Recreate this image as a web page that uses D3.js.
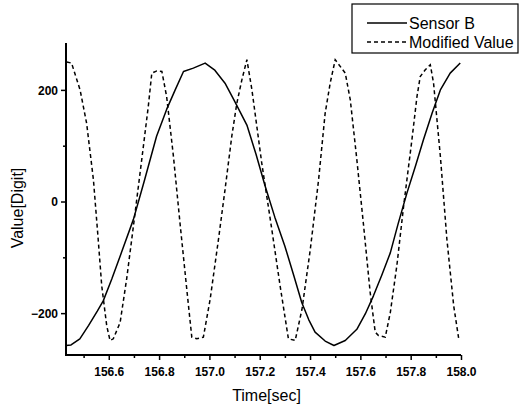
<!DOCTYPE html>
<html>
<head>
<meta charset="utf-8">
<script src="https://cdn.jsdelivr.net/npm/d3@7"></script>
<style>
  html, body { margin: 0; padding: 0; background: #fff; }
  svg { display: block; }
  text { font-family: "Liberation Sans", Arial, sans-serif; fill: #000; }
</style>
</head>
<body>
<svg id="chart" width="520" height="407"></svg>
<script>
// ---- data ----
const sensorTime = [156.430,156.450,156.485,156.520,156.555,156.578,156.612,156.650,156.698,156.740,
  156.790,156.830,156.864,156.897,156.936,156.983,157.020,157.062,157.100,157.149,157.185,157.222,
  157.260,157.300,157.335,157.367,157.395,157.420,157.460,157.495,157.540,157.586,157.620,157.652,
  157.685,157.719,157.750,157.785,157.820,157.851,157.885,157.918,157.957,157.997];
const sensorB = [-258,-257,-246,-222,-196,-178,-139,-92,-32,35,
  117,165,200,233,239,248,236,212,180,137,85,27,
  -28,-80,-132,-181,-212,-234,-250,-258,-249,-229,-201,-169,
  -132,-92,-40,15,65,111,158,200,230,248];

const modTime = [156.433,156.452,156.486,156.512,156.539,156.558,156.572,156.592,156.605,156.618,
  156.645,156.671,156.698,156.731,156.757,156.771,156.791,156.811,156.830,156.857,156.883,156.910,
  156.930,156.950,156.976,157.003,157.036,157.062,157.089,157.109,157.129,157.149,157.169,157.208,
  157.248,157.281,157.314,157.341,157.368,157.401,157.434,157.460,157.480,157.500,157.540,157.560,
  157.586,157.613,157.639,157.659,157.672,157.699,157.719,157.745,157.772,157.805,157.825,157.838,
  157.858,157.878,157.891,157.918,157.944,157.971,157.991];
const modifiedValue = [250,248,200,140,39,-68,-151,-223,-249,-246,
  -217,-139,-44,75,170,230,234,233,188,81,-38,-157,
  -243,-246,-243,-175,-68,21,117,176,218,254,200,69,
  -50,-151,-246,-249,-193,-86,39,158,212,254,230,182,
  75,-44,-163,-234,-240,-243,-199,-115,-8,111,188,224,
  236,245,212,81,-68,-187,-246];

const xMajorTicks = [156.6,156.8,157.0,157.2,157.4,157.6,157.8,158.0];
const xMinorTicks = [156.5,156.7,156.9,157.1,157.3,157.5,157.7,157.9];
const yMajorTicks = [-200,0,200];
const yMinorTicks = [-100,100];
const seriesNames = ["Sensor B","Modified Value"];
const xTitle = "Time[sec]";
const yTitle = "Value[Digit]";

// ---- layout ----
const L = 66, R = 461, T = 43, B = 355;
const svg = d3.select("#chart");
svg.append("rect").attr("width",520).attr("height",407).attr("fill","#fff");

const x = d3.scaleLinear().domain([156.43,158.0]).range([L,R]);
const y = d3.scaleLinear().domain([-275,284]).range([B,T]);

// lines
const lineS = d3.line().x((d,i)=>x(sensorTime[i])).y(d=>y(d));
svg.append("path").datum(sensorB).attr("d",lineS)
  .attr("fill","none").attr("stroke","#000").attr("stroke-width",1.5).attr("stroke-linejoin","round");
const lineM = d3.line().x((d,i)=>x(modTime[i])).y(d=>y(d));
svg.append("path").datum(modifiedValue).attr("d",lineM)
  .attr("fill","none").attr("stroke","#000").attr("stroke-width",1.5)
  .attr("stroke-dasharray","4,3");

// axes
const gx = svg.append("g").attr("transform",`translate(0,${B})`)
  .call(d3.axisBottom(x).tickValues(xMajorTicks).tickSize(5).tickSizeOuter(0).tickFormat(d3.format(".1f")));
const gxm = svg.append("g").attr("transform",`translate(0,${B})`)
  .call(d3.axisBottom(x).tickValues(xMinorTicks).tickSize(3).tickSizeOuter(0).tickFormat(""));
const gy = svg.append("g").attr("transform",`translate(${L},0)`)
  .call(d3.axisLeft(y).tickValues(yMajorTicks).tickSize(5).tickSizeOuter(0).tickFormat(d3.format("d")));
const gym = svg.append("g").attr("transform",`translate(${L},0)`)
  .call(d3.axisLeft(y).tickValues(yMinorTicks).tickSize(3).tickSizeOuter(0).tickFormat(""));

[gx,gxm,gy,gym].forEach(g=>{
  g.selectAll(".domain").attr("stroke","#000").attr("stroke-width",2);
  g.selectAll(".tick line").attr("stroke","#000").attr("stroke-width",1.5);
});
[gxm,gym].forEach(g=>g.select(".domain").remove());
gx.select(".domain").attr("d",`M${L-1},0H${R}`);
gy.select(".domain").attr("d",`M0,${T}V${B+1}`);

gx.selectAll(".tick text").attr("y",12).attr("dy","0.71em")
  .style("font-size","12px").style("font-weight","bold").attr("fill","#000");
gy.selectAll(".tick text").attr("x",-8).attr("dy","0.36em")
  .style("font-size","12px").style("font-weight","bold").attr("fill","#000");

// titles
svg.append("text").attr("x",(L+R)/2+3).attr("y",401).attr("text-anchor","middle")
  .style("font-size","16px").text(xTitle);
svg.append("text").attr("transform","translate(23,208) rotate(-90)").attr("text-anchor","middle")
  .style("font-size","16px").text(yTitle);

// legend
const lg = svg.append("g");
lg.append("rect").attr("x",352).attr("y",4).attr("width",166).attr("height",49)
  .attr("fill","#fff").attr("stroke","#000").attr("stroke-width",1.2);
const ly = [23,42];
const dashes = [null,"4,3"];
seriesNames.forEach((n,i)=>{
  lg.append("line").attr("x1",367).attr("x2",407).attr("y1",ly[i]).attr("y2",ly[i])
    .attr("stroke","#000").attr("stroke-width",1.5).attr("stroke-dasharray",dashes[i]);
  lg.append("text").attr("x",409).attr("y",ly[i]).attr("dy","0.36em")
    .style("font-size","16px").text(n);
});
</script>
</body>
</html>
